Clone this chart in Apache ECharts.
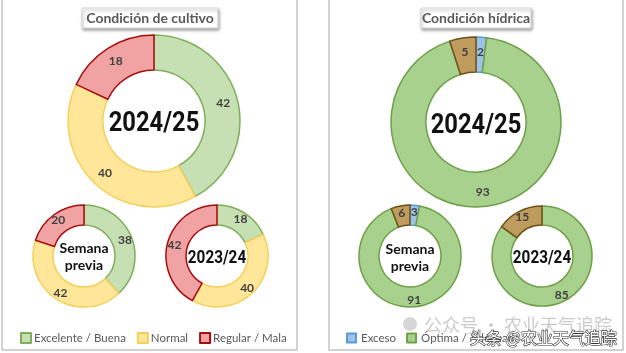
<!DOCTYPE html>
<html lang="es">
<head>
    <meta charset="utf-8">
    <title>Condición de cultivo / Condición hídrica</title>
    <script src="https://cdn.jsdelivr.net/npm/echarts@6/dist/echarts.min.js"></script>
    <style>
        html, body { margin: 0; padding: 0; background: #fff; }
        #main { width: 626px; height: 353px; }
    </style>
</head>
<body>
<div id="main"></div>
<script>
    // categorías y valores (%)
    var cultivoNames = ['Excelente / Buena', 'Normal', 'Regular / Mala'];
    var cultivoActual = [42, 40, 18];
    var cultivoPrevia = [38, 42, 20];
    var cultivoAnterior = [18, 40, 42];

    var hidricaNames = ['Exceso', 'Óptima / Adecuada', 'Regular / Sequía'];
    var hidricaActual = [2, 93, 5];
    var hidricaPrevia = [3, 91, 6];
    var hidricaAnterior = [0, 85, 15];

    var cultivoFill = ['#c6e0b4', '#ffe699', '#f1a3a3'];
    var cultivoLine = ['#7fae5a', '#f5cf5a', '#a80d0d'];
    var hidricaFill = ['#9dc3e6', '#a9d18e', '#c09b5e'];
    var hidricaLine = ['#5b9bd5', '#6f9f48', '#6b5216'];

    var myChart = echarts.init(document.getElementById('main'));

    function makeData(names, vals, fill, line) {
        var arr = [];
        for (var i = 0; i < names.length; i++) {
            arr.push({
                name: names[i],
                value: vals[i],
                itemStyle: { color: fill[i], borderColor: line[i] }
            });
        }
        return arr;
    }

    function donut(center, radius, names, vals, fill, line) {
        return {
            type: 'pie',
            center: center,
            radius: radius,
            startAngle: 90,
            clockwise: true,
            silent: true,
            itemStyle: { borderWidth: 1.5 },
            label: {
                show: true,
                position: 'inside',
                color: '#404040',
                fontFamily: 'Lato',
                fontSize: 12,
                fontWeight: 'bold',
                formatter: function (p) { return p.value > 0 ? p.value : ''; }
            },
            labelLine: { show: false },
            emphasis: { disabled: true },
            data: makeData(names, vals, fill, line)
        };
    }

    // caja de título con sombra
    function titleBox(cx, w, text) {
        return {
            type: 'group',
            children: [{
                type: 'rect',
                shape: { x: cx - w / 2, y: 8, width: w, height: 20 },
                style: {
                    fill: '#fff', stroke: '#d9d9d9', lineWidth: 1,
                    shadowBlur: 3, shadowOffsetX: 1, shadowOffsetY: 2, shadowColor: 'rgba(0,0,0,0.35)'
                }
            }, {
                type: 'text',
                x: cx, y: 18,
                style: {
                    text: text, textAlign: 'center', textVerticalAlign: 'middle',
                    fill: '#595959', fontFamily: 'Lato', fontSize: 14, fontWeight: 'bold'
                }
            }]
        };
    }

    function centerText(x, y, text, size, sx, lh) {
        return {
            type: 'text',
            x: x, y: y, scaleX: sx, z: 10,
            style: {
                text: text, x: 0, y: 0, textAlign: 'center', textVerticalAlign: 'middle',
                fill: '#111', fontFamily: size > 16 ? 'Roboto' : 'Lato', fontSize: size, fontWeight: 'bold',
                lineHeight: lh || size
            }
        };
    }

    var option = {
        animation: false,
        backgroundColor: '#fff',
        legend: [{
            data: cultivoNames,
            left: 15, top: 327,
            itemWidth: 10, itemHeight: 10, itemGap: 11,
            icon: 'rect',
            selectedMode: false,
            textStyle: { color: '#595959', fontFamily: 'Lato', fontSize: 11.5, padding: [0, 0, 0, -2] }
        }, {
            data: hidricaNames,
            left: 341, top: 327,
            itemWidth: 9, itemHeight: 9, itemGap: 10,
            icon: 'rect',
            selectedMode: false,
            textStyle: { color: '#595959', fontFamily: 'Lato', fontSize: 11.5 }
        }],
        graphic: [
            { type: 'rect', shape: { x: 2, y: -2, width: 295, height: 352 }, style: { fill: 'none', stroke: '#c4c4c4', lineWidth: 1.5 } },
            { type: 'rect', shape: { x: 329, y: -2, width: 294, height: 352 }, style: { fill: 'none', stroke: '#c4c4c4', lineWidth: 1.5 } },
            titleBox(150, 136, 'Condición de cultivo'),
            titleBox(476, 110, 'Condición hídrica'),
            centerText(154, 124, '2024/25', 27, 0.88),
            centerText(84, 257, 'Semana\nprevia', 14, 1, 17),
            centerText(217, 258, '2023/24', 18, 0.85),
            centerText(476, 126, '2024/25', 27, 0.88),
            centerText(410, 258, 'Semana\nprevia', 14, 1, 17),
            centerText(542, 258, '2023/24', 18, 0.85),
            // marcas de agua
            { type: 'circle', shape: { cx: 410, cy: 324, r: 7 }, style: { fill: '#d6d6d6' }, z: 20 },
            { type: 'text', x: 424, y: 325, z: 20,
              style: { text: '公众号 · 农业天气追踪', textVerticalAlign: 'middle', fill: 'rgba(190,190,190,0.8)', fontFamily: 'Noto Sans CJK SC', fontSize: 18 } },
            { type: 'text', x: 470, y: 338, z: 21,
              style: { text: '头条 @农业天气追踪', textVerticalAlign: 'middle', fill: '#fff', stroke: '#333', lineWidth: 1.2, fontFamily: 'Noto Sans CJK SC', fontSize: 16 } }
        ],
        series: [
            donut([154, 121], [51, 86], cultivoNames, cultivoActual, cultivoFill, cultivoLine),
            donut([84, 256], [31, 51], cultivoNames, cultivoPrevia, cultivoFill, cultivoLine),
            donut([217, 256], [31, 51], cultivoNames, cultivoAnterior, cultivoFill, cultivoLine),
            donut([476, 122], [50, 85], hidricaNames, hidricaActual, hidricaFill, hidricaLine),
            donut([410, 256], [31, 51], hidricaNames, hidricaPrevia, hidricaFill, hidricaLine),
            donut([542, 256], [31, 50], hidricaNames, hidricaAnterior, hidricaFill, hidricaLine)
        ]
    };
    myChart.setOption(option);
</script>
</body>
</html>
